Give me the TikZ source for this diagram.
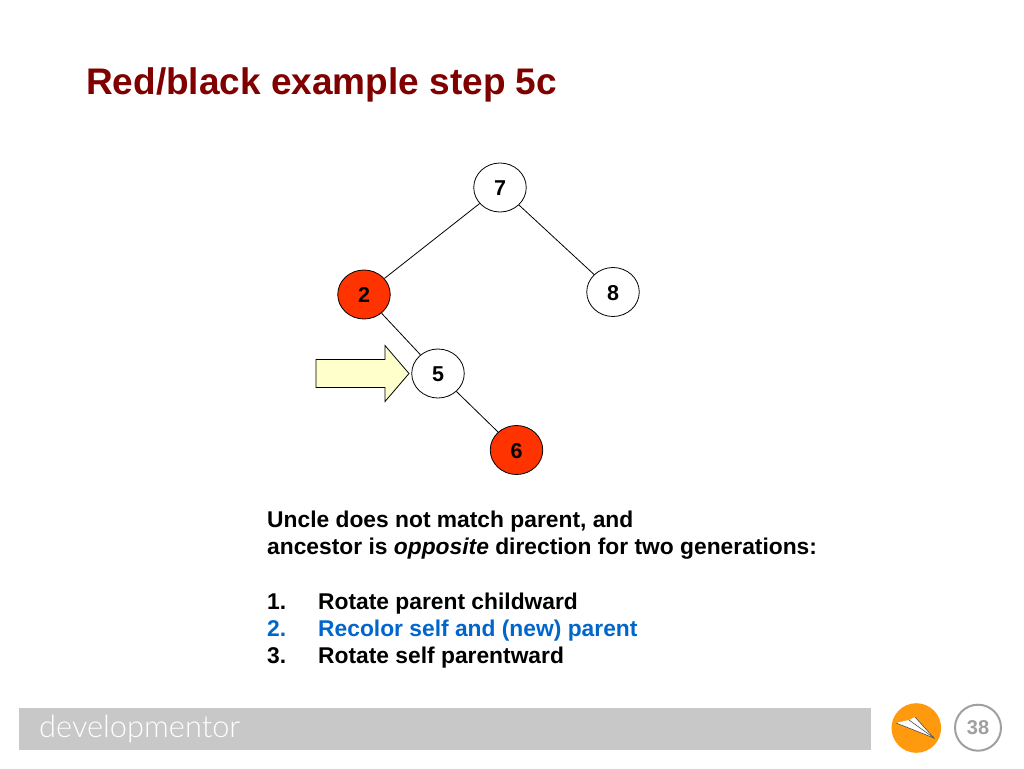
\documentclass[tikz,border=0pt]{standalone}
\usepackage{fontspec}
\setmainfont{Liberation Sans}
\newfontfamily\logofont[UprightFont=* Light]{Lato}
\usetikzlibrary{shapes.geometric}
\definecolor{titlered}{HTML}{800000}
\definecolor{nodered}{HTML}{FF3300}
\definecolor{arrowfill}{HTML}{FFFFCC}
\definecolor{bodyblue}{HTML}{0066CC}
\definecolor{barcol}{HTML}{C8C8C8}
\definecolor{orangecol}{HTML}{FF9A0F}
\definecolor{numgray}{HTML}{A0A0A0}
\tikzset{
  treenode/.style={ellipse,draw=black,line width=0.8pt,minimum width=52.5pt,minimum height=49pt,inner sep=0pt,
    text height=16.4pt,text depth=0pt,font=\fontsize{21.5}{24}\selectfont\bfseries},
  blacknode/.style={treenode,fill=white},
  rednode/.style={treenode,fill=nodered},
  edgeline/.style={draw=black,line width=0.8pt},
  bodytext/.style={anchor=base west,inner sep=0pt,font=\fontsize{22.8}{27}\selectfont\bfseries,text=black}
}
\begin{document}
\begin{tikzpicture}[x=1pt,y=-1pt]
\useasboundingbox (0,0) rectangle (1024,768);
\fill[white] (0,0) rectangle (1024,768);
\node[anchor=base west,inner sep=0pt,text=titlered,font=\fontsize{37}{40}\selectfont\bfseries] (title) at (86,94) {Red/black example step 5c};
\node[blacknode] (n7) at (500,187.5) {7};
\node[rednode] (n2) at (364,294.5) {2};
\node[blacknode] (n8) at (613,292) {8};
\node[blacknode] (n5) at (438,373.5) {5};
\node[rednode] (n6) at (516.5,450) {6};
\draw[edgeline] (n7) -- (n2);
\draw[edgeline] (n7) -- (n8);
\draw[edgeline] (n2) -- (n5);
\draw[edgeline] (n5) -- (n6);
\draw[fill=arrowfill,draw=black,line width=0.8pt] (316,359.5) -- (385,359.5) -- (385,345.5) -- (409,373.5) -- (385,401.5) -- (385,387.5) -- (316,387.5) -- cycle;
\node[bodytext] (l1) at (267,527) {Uncle does not match parent, and};
\node[bodytext] (l2) at (267,554) {ancestor is \textit{opposite} direction for two generations:};
\node[bodytext] (a1) at (267,609) {1.};
\node[bodytext] (b1) at (318,609) {Rotate parent childward};
\node[bodytext,text=bodyblue] (a2) at (267,636) {2.};
\node[bodytext,text=bodyblue] (b2) at (318,636) {Recolor self and (new) parent};
\node[bodytext] (a3) at (267,663) {3.};
\node[bodytext] (b3) at (318,663) {Rotate self parentward};
\fill[barcol] (19,708) rectangle (871,750);
\node[anchor=base west,inner sep=0pt,text=white,font=\logofont\fontsize{30.8}{32}\selectfont] (logo) at (39,737) {developmentor};
\fill[orangecol] (916.3,728) circle (24.8);
\fill[white] (896,723) -- (909,720) -- (915,717) -- (934,738) -- cycle;
\draw[black!70,line width=0.6pt] (896,723) -- (934,738) -- (915,717);
\draw[black!70,line width=0.6pt] (909,720) -- (934,738);
\node[circle,draw=numgray,line width=2pt,fill=white,minimum size=46pt,inner sep=0pt,text=numgray,font=\fontsize{20}{24}\selectfont\bfseries] (page) at (978,727.7) {38};
\end{tikzpicture}
\end{document}
